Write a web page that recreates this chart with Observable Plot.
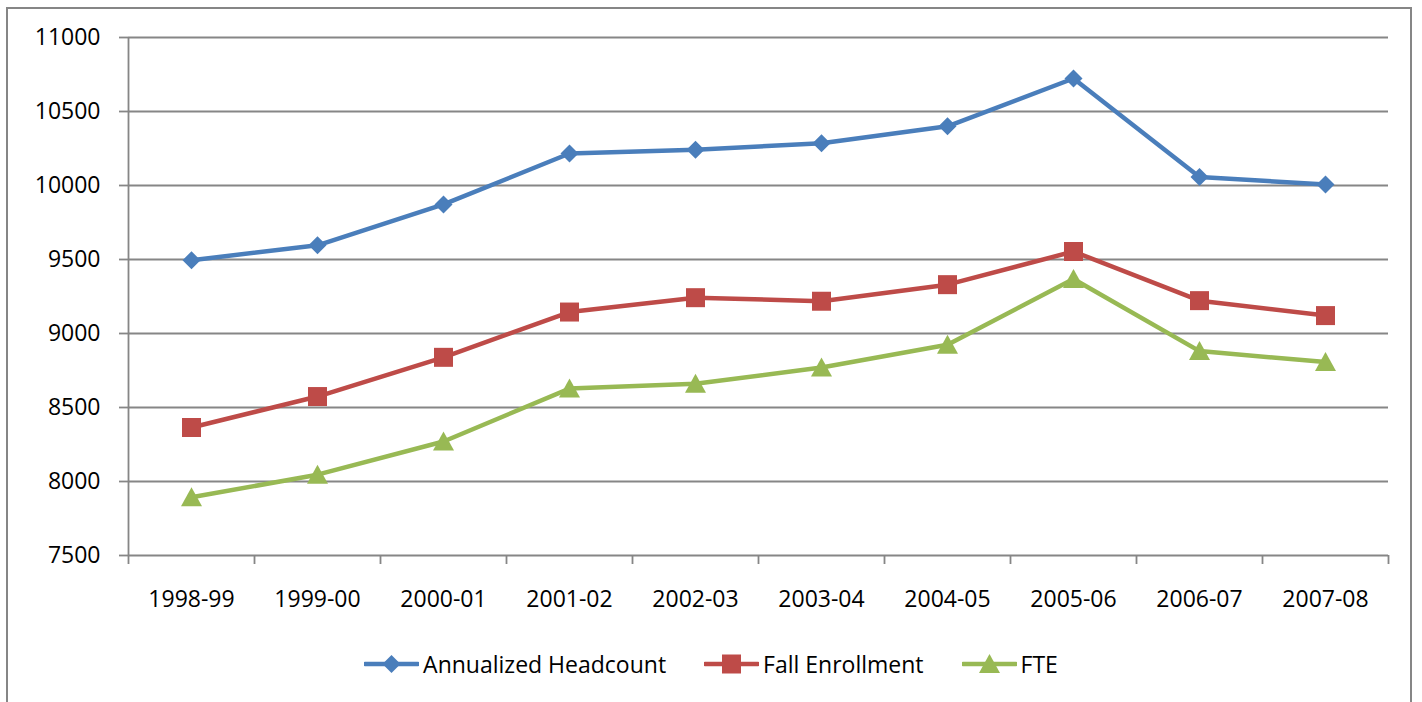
<!DOCTYPE html>
<html>
<head>
<meta charset="utf-8">
<script src="https://cdn.jsdelivr.net/npm/d3@7"></script>
<script src="https://cdn.jsdelivr.net/npm/@observablehq/plot@0.6"></script>
<style>
  html, body { margin: 0; padding: 0; background: #fff; }
  #wrap { position: relative; width: 1422px; height: 702px; overflow: hidden; font-family: "Open Sans", sans-serif; }
  #frame { position: absolute; left: 6px; top: 7px; width: 1406px; height: 720px; border: 2px solid #868686; box-sizing: border-box; }
  #chart { position: absolute; left: 0; top: 0; }
  #legend { position: absolute; left: 0; top: 648px; width: 1422px; display: flex; justify-content: center; align-items: center; gap: 38px; font-size: 23px; color: #000; }
  .item { display: flex; align-items: center; gap: 4px; }
  .item svg { display: block; }
</style>
</head>
<body>
<div id="wrap">
  <div id="frame"></div>
  <div id="chart"></div>
  <div id="legend"></div>
</div>
<script>
// ---- data ----
const years = ["1998-99", "1999-00", "2000-01", "2001-02", "2002-03", "2003-04", "2004-05", "2005-06", "2006-07", "2007-08"];
const seriesNames = ["Annualized Headcount", "Fall Enrollment", "FTE"];
const headcount = [9495, 9596, 9872, 10216, 10242, 10286, 10400, 10723, 10058, 10007];
const fallEnrollment = [8365, 8574, 8839, 9145, 9242, 9218, 9330, 9554, 9222, 9121];
const fte = [7893, 8046, 8270, 8628, 8661, 8770, 8924, 9368, 8881, 8807];
const yTicks = [7500, 8000, 8500, 9000, 9500, 10000, 10500, 11000];
const colors = ["#4A7EBB", "#BE4B48", "#98B954"];

// ---- custom Excel-like markers ----
const diamond = { draw(ctx) { const h = 9; ctx.moveTo(0, -h); ctx.lineTo(h, 0); ctx.lineTo(0, h); ctx.lineTo(-h, 0); ctx.closePath(); } };
const square = { draw(ctx) { const s = 9.5; ctx.moveTo(-s, -s); ctx.lineTo(s, -s); ctx.lineTo(s, s); ctx.lineTo(-s, s); ctx.closePath(); } };
const triangle = { draw(ctx) { ctx.moveTo(0, -10); ctx.lineTo(10.5, 9); ctx.lineTo(-10.5, 9); ctx.closePath(); } };
const symbols = [diamond, square, triangle];

const values = [headcount, fallEnrollment, fte];
const rows = [];
seriesNames.forEach((s, k) => values[k].forEach((v, i) => rows.push({ series: s, year: years[i], xi: i + 0.5, value: v })));

const chart = Plot.plot({
  width: 1422,
  height: 625,
  marginLeft: 128,
  marginRight: 34,
  marginTop: 37,
  marginBottom: 70,
  style: { fontFamily: "'Open Sans', sans-serif", fontSize: "23px", background: "transparent", color: "#000" },
  x: { domain: [0, years.length], axis: null },
  y: { domain: [7500, 11000], axis: null },
  color: { domain: seriesNames, range: colors },
  symbol: { domain: seriesNames, range: symbols },
  marks: [
    Plot.gridY(yTicks, { stroke: "#868686", strokeOpacity: 1, strokeWidth: 1.8 }),
    Plot.ruleX([0], { y1: 7500, y2: 11000, stroke: "#868686", strokeWidth: 1.8 }),
    Plot.axisY({ ticks: yTicks, tickSize: 9, tickPadding: 19, stroke: "#868686", strokeWidth: 1.8, fill: "#000", tickFormat: d => String(d), label: null }),
    Plot.axisX({ ticks: d3.range(0, years.length + 1), tickSize: 9, tickFormat: () => "", stroke: "#868686", strokeWidth: 1.8, label: null }),
    Plot.axisX({ ticks: years.map((d, i) => i + 0.5), tickSize: 0, tickPadding: 35, tickFormat: v => years[Math.floor(v)], fill: "#000", label: null }),
    Plot.line(rows, { x: "xi", y: "value", z: "series", stroke: "series", strokeWidth: 4.5, strokeLinejoin: "round", strokeLinecap: "round" }),
    Plot.dot(rows, { x: "xi", y: "value", symbol: "series", fill: "series", stroke: "none", r: 8 })
  ]
});
document.getElementById("chart").appendChild(chart);

// ---- legend ----
const legend = d3.select("#legend");
seriesNames.forEach((s, k) => {
  const item = legend.append("div").attr("class", "item");
  const svg = item.append("svg").attr("width", 55).attr("height", 24);
  svg.append("line").attr("x1", 1).attr("x2", 54).attr("y1", 12).attr("y2", 12)
    .attr("stroke", colors[k]).attr("stroke-width", 4.5).attr("stroke-linecap", "round");
  svg.append("path").attr("transform", "translate(27.5,12)").attr("fill", colors[k])
    .attr("d", d3.symbol().type(symbols[k]).size(100)());
  item.append("span").text(s);
});
</script>
</body>
</html>
